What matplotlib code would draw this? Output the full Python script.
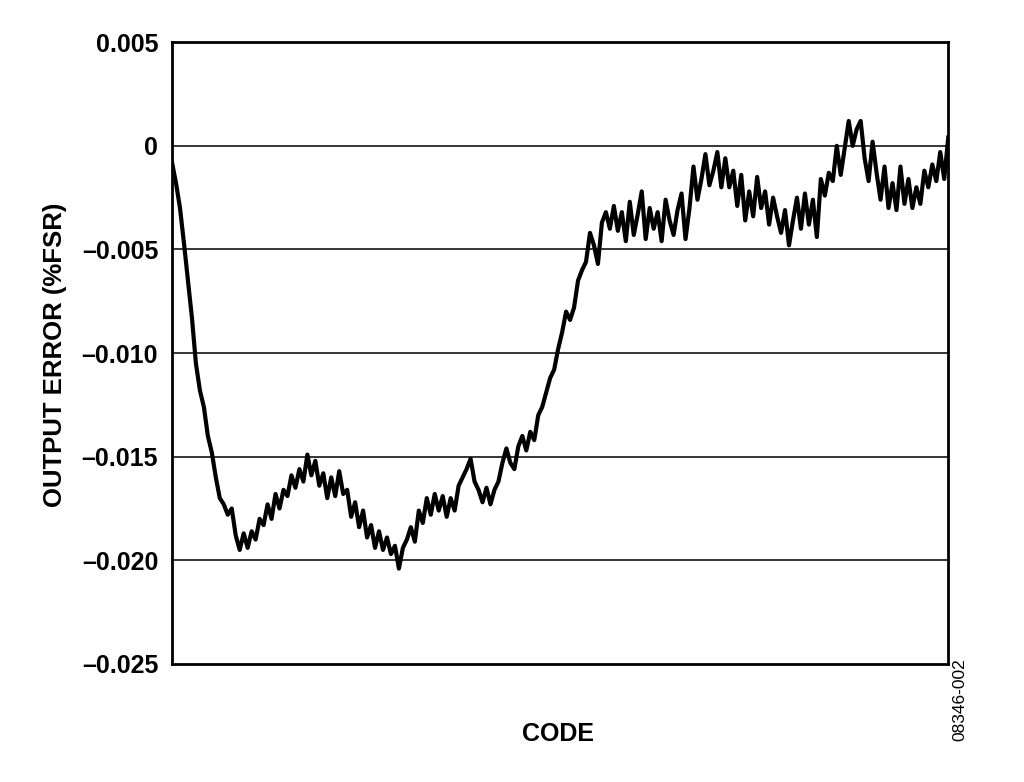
#!/usr/bin/env python3
"""Output error (%FSR) vs code, redrawn from the datasheet figure."""
import numpy as np
import matplotlib
matplotlib.use("Agg")
import matplotlib.pyplot as plt

plt.rcParams["font.family"] = ["Liberation Sans", "DejaVu Sans"]

# output error in units of 1e-3 %FSR at evenly spaced codes
err_milli = [
    -0.8, -1.8, -3.0, -4.7, -6.5, -8.3, -10.5, -11.8, -12.6, -14.0,
    -14.8, -16.0, -17.0, -17.3, -17.8, -17.5, -18.8, -19.5, -18.7, -19.4,
    -18.6, -19.0, -18.0, -18.3, -17.3, -18.0, -16.8, -17.5, -16.6, -16.9,
    -15.9, -16.5, -15.6, -16.2, -14.9, -15.9, -15.2, -16.4, -15.8, -17.0,
    -16.0, -16.9, -15.7, -16.8, -16.6, -17.9, -17.2, -18.4, -17.6, -18.9,
    -18.3, -19.4, -18.6, -19.5, -18.9, -19.7, -19.3, -20.4, -19.4, -19.0,
    -18.4, -19.1, -17.6, -18.2, -17.0, -17.8, -16.8, -17.6, -16.9,
    -17.9, -17.0, -17.6, -16.4, -16.0, -15.6, -15.1, -16.2, -16.6, -17.2,
    -16.5, -17.3, -16.6, -16.2, -15.3, -14.6, -15.3, -15.6, -14.5, -14.0,
    -14.7, -13.8, -14.2, -13.0, -12.6, -11.9, -11.2, -10.8, -9.8, -9.0,
    -8.0, -8.4, -7.8, -6.5, -6.0, -5.6, -4.2, -4.8, -5.7, -3.7,
    -3.2, -4.0, -2.9, -4.1, -3.2, -4.6, -2.7, -4.3, -3.3, -2.2,
    -4.5, -3.0, -4.0, -3.2, -4.6, -2.6, -3.6, -4.3, -3.1, -2.3,
    -4.5,
    -3.0, -1.0, -2.6, -1.6, -0.4, -1.9, -1.2, -0.3, -2.0, -0.6,
    -2.0, -1.2, -2.9, -1.4, -3.6, -2.2, -3.4, -1.5, -3.0, -2.2,
    -3.8, -2.5, -3.4, -4.2, -3.1, -4.8, -3.6, -2.5, -4.0, -2.3,
    -3.8, -2.6, -4.4, -1.6, -2.4, -1.3, -1.7, 0.0, -1.4, -0.1,
    1.2, 0.0, 0.8, 1.2, -0.6, -1.7, 0.2, -1.3, -2.6, -1.0,
    -3.0, -1.8, -3.1, -1.0, -2.8, -1.6, -3.0, -2.0, -2.8, -1.2,
    -2.0, -0.9, -1.7, -0.3, -1.6, 0.4,
]

y_ticks = [0.005, 0, -0.005, -0.010, -0.015, -0.020, -0.025]
y_labels = ["0.005", "0", "\u20130.005", "\u20130.010", "\u20130.015",
            "\u20130.020", "\u20130.025"]
grid_levels = [0, -0.005, -0.010, -0.015, -0.020]


def main():
    err = np.array(err_milli) * 1e-3
    code = np.arange(len(err))

    fig = plt.figure(figsize=(10.24, 7.82), dpi=100)
    ax = fig.add_axes([0.168, 0.151, 0.758, 0.795])

    for g in grid_levels:
        ax.axhline(g, color="black", linewidth=1.1, zorder=1)
    ax.plot(code, err, color="black", linewidth=3.0, zorder=3)

    ax.set_xlim(0, len(err) - 1)
    ax.set_ylim(-0.025, 0.005)
    ax.set_xticks([])
    ax.set_yticks(y_ticks)
    ax.set_yticklabels(y_labels, fontsize=18, fontweight="bold")
    ax.tick_params(axis="y", length=0, pad=10)
    for sp in ax.spines.values():
        sp.set_linewidth(2.0)

    # axis titles placed as in the original layout
    fig.text(55 / 1024, 1 - 355 / 782, "OUTPUT ERROR (%FSR)", rotation=90,
             ha="center", va="center", fontsize=18.5, fontweight="bold")
    fig.text(558 / 1024, 1 - 734 / 782, "CODE", ha="center", va="center",
             fontsize=18, fontweight="bold")
    fig.text(960 / 1024, 1 - 700 / 782, "08346-002", rotation=90,
             ha="center", va="center", fontsize=12.5)

    fig.savefig("out.png", dpi=100)
    plt.close(fig)


if __name__ == "__main__":
    main()
